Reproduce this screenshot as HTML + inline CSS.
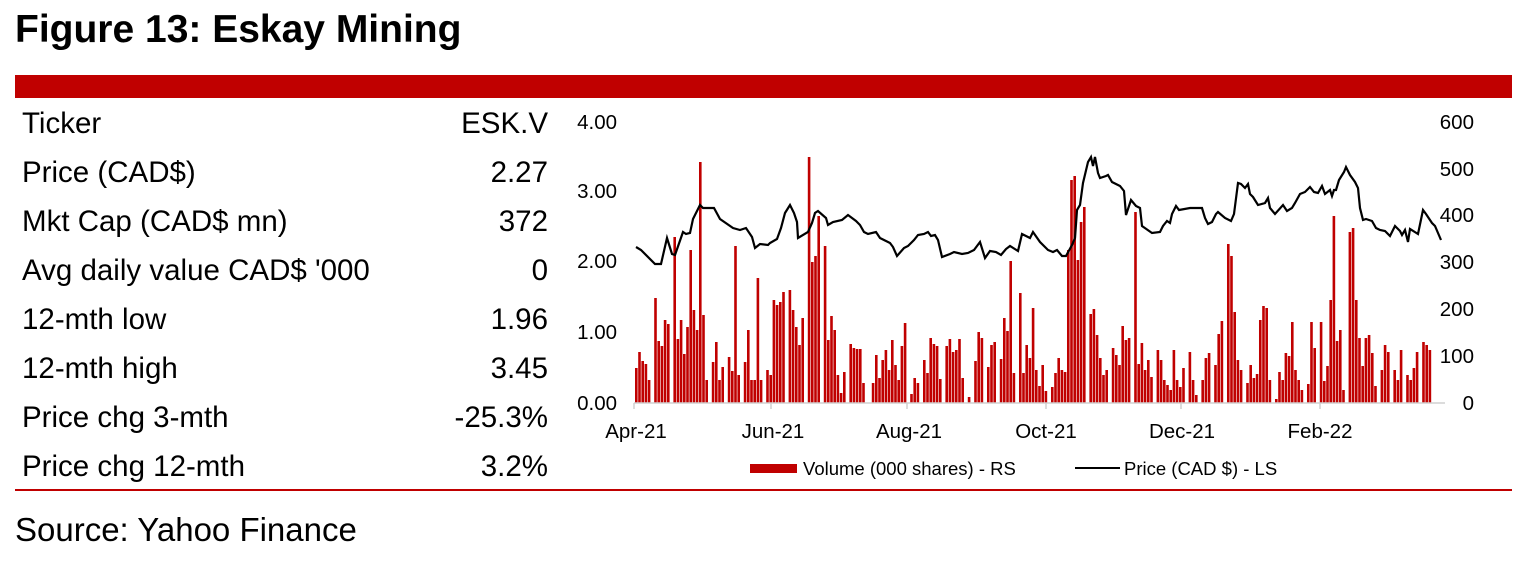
<!DOCTYPE html><html><head><meta charset="utf-8"><style>
body{margin:0;width:1532px;height:573px;background:#fff;font-family:"Liberation Sans",Arial,sans-serif;overflow:hidden;position:relative}
.t{position:absolute;left:15px;top:8px;font-size:39px;font-weight:bold}
.bar{position:absolute;left:15px;top:75px;width:1497px;height:23px;background:#c00000}
.ln{position:absolute;left:15px;top:489px;width:1497px;height:2px;background:#c00000}
.r{position:absolute;left:22px;width:526px;font-size:29.5px;height:32px}
.r span{position:absolute;right:0}
.s{position:absolute;left:15px;top:511px;font-size:33px}
svg{position:absolute;left:0;top:0}
</style></head><body>
<div class="t">Figure 13: Eskay Mining</div>
<div class="bar"></div>
<div class="r" style="top:107px">Ticker<span>ESK.V</span></div>
<div class="r" style="top:156px">Price (CAD$)<span>2.27</span></div>
<div class="r" style="top:205px">Mkt Cap (CAD$ mn)<span>372</span></div>
<div class="r" style="top:254px">Avg daily value CAD$ '000<span>0</span></div>
<div class="r" style="top:303px">12-mth low<span>1.96</span></div>
<div class="r" style="top:352px">12-mth high<span>3.45</span></div>
<div class="r" style="top:401px">Price chg 3-mth<span>-25.3%</span></div>
<div class="r" style="top:450px">Price chg 12-mth<span>3.2%</span></div>
<div class="ln"></div>
<div class="s">Source: Yahoo Finance</div>
<svg width="1532" height="573" font-family="Liberation Sans,Arial,sans-serif" font-size="20.5">
<path fill="#c00000" d="M635 403
V368h2.6V403m.6 0V352h2.6V403m.6 0V361h2.6V403m.6 0V364h2.6V403m.6 0V380h2.6V403m.6 0V403h2.6V403m.6 0V298h2.6V403m.6 0V341h2.6V403m.6 0V346h2.6V403m.6 0V320h2.6V403m.6 0V324h2.6V403m.6 0V403h2.6V403m.6 0V237h2.6V403m.6 0V339h2.6V403m.6 0V320h2.6V403m.6 0V354h2.6V403m.6 0V327h2.6V403m.6 0V250h2.6V403m.6 0V310h2.6V403m.6 0V330h2.6V403m.6 0V162h2.6V403m.6 0V315h2.6V403m.6 0V380h2.6V403m.6 0V403h2.6V403m.6 0V362h2.6V403m.6 0V342h2.6V403m.6 0V380h2.6V403m.6 0V367h2.6V403m.6 0V403h2.6V403m.6 0V357h2.6V403m.6 0V371h2.6V403m.6 0V246h2.6V403m.6 0V375h2.6V403m.6 0V403h2.6V403m.6 0V362h2.6V403m.6 0V330h2.6V403m.6 0V380h2.6V403m.6 0V380h2.6V403m.6 0V278h2.6V403m.6 0V380h2.6V403m.6 0V403h2.6V403m.6 0
V370h2.6V403m.6 0V375h2.6V403m.6 0V300h2.6V403m.6 0V305h2.6V403m.6 0V302h2.6V403m.6 0V292h2.6V403m.6 0V403h2.6V403m.6 0V290h2.6V403m.6 0V310h2.6V403m.6 0V327h2.6V403m.6 0V345h2.6V403m.6 0V318h2.6V403m.6 0V403h2.6V403m.6 0V157h2.6V403m.6 0V262h2.6V403m.6 0V256h2.6V403m.6 0V216h2.6V403m.6 0V403h2.6V403m.6 0V246h2.6V403m.6 0V340h2.6V403m.6 0V316h2.6V403m.6 0V330h2.6V403m.6 0V375h2.6V403m.6 0V393h2.6V403m.6 0V372h2.6V403m.6 0V403h2.6V403m.6 0V344h2.6V403m.6 0V348h2.6V403m.6 0V349h2.6V403m.6 0V349h2.6V403m.6 0V383h2.6V403m.6 0V403h2.6V403m.6 0V403h2.6V403m.6 0V383h2.6V403m.6 0V355h2.6V403m.6 0V378h2.6V403m.6 0V360h2.6V403m.6 0V350h2.6V403m.6 0V370h2.6V403m.6 0V340h2.6V403m.6 0V365h2.6V403m.6 0V380h2.6V403m.6 0
V346h2.6V403m.6 0V323h2.6V403m.6 0V403h2.6V403m.6 0V394h2.6V403m.6 0V378h2.6V403m.6 0V383h2.6V403m.6 0V403h2.6V403m.6 0V360h2.6V403m.6 0V373h2.6V403m.6 0V338h2.6V403m.6 0V344h2.6V403m.6 0V346h2.6V403m.6 0V379h2.6V403m.6 0V403h2.6V403m.6 0V346h2.6V403m.6 0V339h2.6V403m.6 0V352h2.6V403m.6 0V350h2.6V403m.6 0V339h2.6V403m.6 0V378h2.6V403m.6 0V403h2.6V403m.6 0V397h2.6V403m.6 0V403h2.6V403m.6 0V361h2.6V403m.6 0V332h2.6V403m.6 0V338h2.6V403m.6 0V403h2.6V403m.6 0V367h2.6V403m.6 0V345h2.6V403m.6 0V342h2.6V403m.6 0V403h2.6V403m.6 0V359h2.6V403m.6 0V318h2.6V403m.6 0V331h2.6V403m.6 0V261h2.6V403m.6 0V373h2.6V403m.6 0V403h2.6V403m.6 0V293h2.6V403m.6 0V373h2.6V403m.6 0V345h2.6V403m.6 0V358h2.6V403m.6 0V308h2.6V403m.6 0V370h2.6V403m.6 0
V386h2.6V403m.6 0V365h2.6V403m.6 0V391h2.6V403m.6 0V403h2.6V403m.6 0V387h2.6V403m.6 0V373h2.6V403m.6 0V358h2.6V403m.6 0V370h2.6V403m.6 0V372h2.6V403m.6 0V250h2.6V403m.6 0V180h2.6V403m.6 0V176h2.6V403m.6 0V260h2.6V403m.6 0V222h2.6V403m.6 0V207h2.6V403m.6 0V403h2.6V403m.6 0V314h2.6V403m.6 0V309h2.6V403m.6 0V335h2.6V403m.6 0V358h2.6V403m.6 0V375h2.6V403m.6 0V370h2.6V403m.6 0V403h2.6V403m.6 0V348h2.6V403m.6 0V355h2.6V403m.6 0V365h2.6V403m.6 0V326h2.6V403m.6 0V340h2.6V403m.6 0V338h2.6V403m.6 0V403h2.6V403m.6 0V212h2.6V403m.6 0V364h2.6V403m.6 0V343h2.6V403m.6 0V370h2.6V403m.6 0V360h2.6V403m.6 0V377h2.6V403m.6 0V403h2.6V403m.6 0V350h2.6V403m.6 0V360h2.6V403m.6 0V380h2.6V403m.6 0V385h2.6V403m.6 0V390h2.6V403m.6 0
V350h2.6V403m.6 0V380h2.6V403m.6 0V387h2.6V403m.6 0V368h2.6V403m.6 0V403h2.6V403m.6 0V352h2.6V403m.6 0V380h2.6V403m.6 0V395h2.6V403m.6 0V403h2.6V403m.6 0V380h2.6V403m.6 0V358h2.6V403m.6 0V353h2.6V403m.6 0V403h2.6V403m.6 0V365h2.6V403m.6 0V334h2.6V403m.6 0V321h2.6V403m.6 0V403h2.6V403m.6 0V244h2.6V403m.6 0V256h2.6V403m.6 0V312h2.6V403m.6 0V360h2.6V403m.6 0V370h2.6V403m.6 0V403h2.6V403m.6 0V383h2.6V403m.6 0V365h2.6V403m.6 0V378h2.6V403m.6 0V374h2.6V403m.6 0V320h2.6V403m.6 0V306h2.6V403m.6 0V308h2.6V403m.6 0V380h2.6V403m.6 0V403h2.6V403m.6 0V399h2.6V403m.6 0V372h2.6V403m.6 0V380h2.6V403m.6 0V353h2.6V403m.6 0V356h2.6V403m.6 0V322h2.6V403m.6 0V370h2.6V403m.6 0V380h2.6V403m.6 0V390h2.6V403m.6 0
V403h2.6V403m.6 0V384h2.6V403m.6 0V322h2.6V403m.6 0V348h2.6V403m.6 0V403h2.6V403m.6 0V322h2.6V403m.6 0V381h2.6V403m.6 0V366h2.6V403m.6 0V300h2.6V403m.6 0V216h2.6V403m.6 0V341h2.6V403m.6 0V330h2.6V403m.6 0V390h2.6V403m.6 0V403h2.6V403m.6 0V232h2.6V403m.6 0V228h2.6V403m.6 0V300h2.6V403m.6 0V338h2.6V403m.6 0V366h2.6V403m.6 0V338h2.6V403m.6 0V335h2.6V403m.6 0V353h2.6V403m.6 0V386h2.6V403m.6 0V403h2.6V403m.6 0V370h2.6V403m.6 0V345h2.6V403m.6 0V352h2.6V403m.6 0V403h2.6V403m.6 0V370h2.6V403m.6 0V380h2.6V403m.6 0V350h2.6V403m.6 0V403h2.6V403m.6 0V375h2.6V403m.6 0V380h2.6V403m.6 0V368h2.6V403m.6 0V352h2.6V403m.6 0V403h2.6V403m.6 0V342h2.6V403m.6 0V345h2.6V403m.6 0V350h2.6V403m.6 0"/>
<polyline fill="none" stroke="#000" stroke-width="2.2" points="636,247 641,250 655,264 661,264 667,238 672,254 675,255 683,232 686,234 690,233 693,219 700,205 703,208 714,208 720,219 733,228 740,230 746,228 752,237 755,248 760,244 768,245 770,243 777,239 781,228 785,213 790,205 794,213 797,222 798,238 808,232 812,223 815,213 818,211 826,218 828,225 833,222 842,220 848,215 856,221 860,225 864,232 868,234 876,232 880,238 890,243 893,247 897,256 904,248 908,246 914,240 918,235 924,234 928,232 931,236 935,235 938,240 942,257 950,254 954,252 962,254 968,253 974,250 980,242 985,258 990,251 996,252 1001,255 1006,249 1010,246 1018,251 1022,234 1030,238 1033,232 1040,242 1048,250 1053,252 1057,250 1062,256 1066,256 1072,245 1075,238 1077,210 1080,205 1083,183 1088,162 1091,157 1093,166 1095,157 1098,173 1100,178 1106,176 1108,175 1112,182 1120,186 1124,191 1126,215 1131,200 1136,206 1140,208 1142,226 1152,233 1160,232 1163,226 1167,221 1170,223 1172,214 1176,206 1179,210 1190,208 1202,208 1205,218 1208,224 1212,222 1216,214 1218,212 1225,218 1231,221 1234,214 1238,183 1241,184 1245,188 1248,184 1250,194 1253,197 1258,205 1265,203 1268,198 1270,208 1275,214 1283,205 1287,211 1292,208 1295,203 1300,194 1305,192 1310,187 1314,192 1318,193 1322,186 1325,194 1330,190 1332,196 1334,190 1336,190 1339,180 1344,172 1346,167 1350,175 1355,182 1358,188 1360,208 1363,220 1366,219 1372,221 1376,228 1380,230 1385,231 1390,236 1395,226 1400,231 1402,235 1405,230 1408,242 1410,229 1418,234 1423,210 1426,214 1432,223 1435,226 1441,240"/>
<line x1="634" y1="403" x2="1445" y2="403" stroke="#d0d0d0" stroke-width="1.5"/>
<g stroke="#d0d0d0" stroke-width="1.5"><line x1="634" y1="403" x2="634" y2="409"/><line x1="771" y1="403" x2="771" y2="409"/><line x1="907" y1="403" x2="907" y2="409"/><line x1="1046" y1="403" x2="1046" y2="409"/><line x1="1181" y1="403" x2="1181" y2="409"/><line x1="1320" y1="403" x2="1320" y2="409"/></g>
<g text-anchor="end"><text x="617" y="129">4.00</text><text x="617" y="198">3.00</text><text x="617" y="268">2.00</text><text x="617" y="339">1.00</text><text x="617" y="410">0.00</text></g>
<g text-anchor="end"><text x="1474" y="129">600</text><text x="1474" y="176">500</text><text x="1474" y="222">400</text><text x="1474" y="269">300</text><text x="1474" y="316">200</text><text x="1474" y="363">100</text><text x="1474" y="410">0</text></g>
<g text-anchor="middle"><text x="636" y="438">Apr-21</text><text x="773" y="438">Jun-21</text><text x="909" y="438">Aug-21</text><text x="1046" y="438">Oct-21</text><text x="1182" y="438">Dec-21</text><text x="1320" y="438">Feb-22</text></g>
<rect x="750" y="464" width="47" height="9" fill="#c00000"/>
<text x="803" y="475" font-size="18.5">Volume (000 shares) - RS</text>
<line x1="1075" y1="468" x2="1120" y2="468" stroke="#000" stroke-width="2"/>
<text x="1124" y="475" font-size="18.5">Price (CAD $) - LS</text>
</svg>
</body></html>
